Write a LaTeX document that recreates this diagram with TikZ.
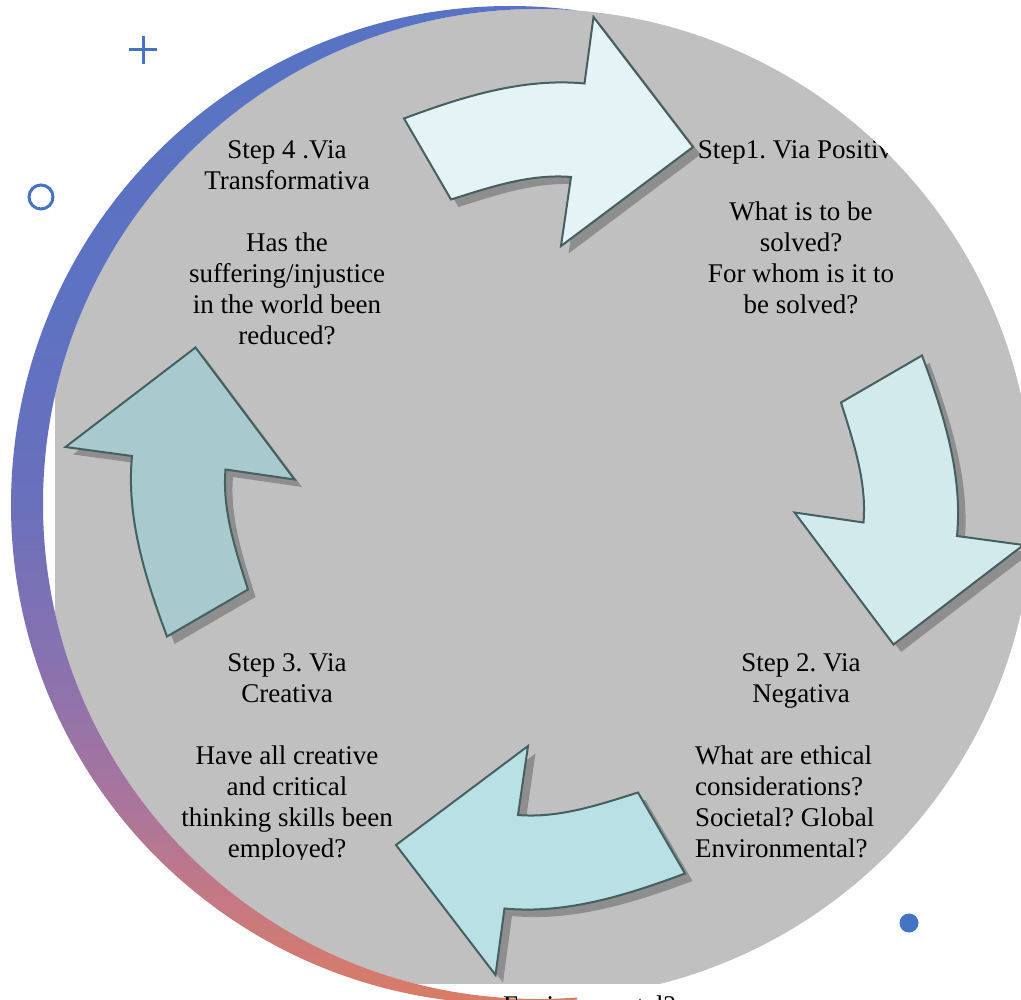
\documentclass[tikz,border=0pt]{standalone}
\usepackage{fontspec}
\setmainfont{Liberation Serif}
\frenchspacing
\definecolor{grayfill}{RGB}{192,192,192}
\definecolor{arrline}{RGB}{70,95,95}
\definecolor{arrA}{RGB}{227,243,246}
\definecolor{arrB}{RGB}{209,234,236}
\definecolor{arrC}{RGB}{185,224,228}
\definecolor{arrD}{RGB}{168,202,205}
\definecolor{shadowgray}{RGB}{142,142,142}
\definecolor{decoblue}{RGB}{68,114,196}
\definecolor{rgA}{RGB}{218,124,100}
\definecolor{rgB}{RGB}{198,121,130}
\definecolor{rgC}{RGB}{170,117,155}
\definecolor{rgD}{RGB}{136,114,175}
\definecolor{rgE}{RGB}{106,112,188}
\definecolor{rgF}{RGB}{93,114,194}
\definecolor{rgG}{RGB}{88,115,196}
\pgfdeclareverticalshading{ringshade}{100bp}{color(0bp)=(rgA); color(25bp)=(rgA); color(30bp)=(rgB); color(35bp)=(rgC); color(42bp)=(rgD); color(50bp)=(rgE); color(60bp)=(rgF); color(75bp)=(rgG); color(100bp)=(rgG)}
\tikzset{
  txt/.style={font=\fontsize{27}{31}\selectfont, inner sep=0pt, anchor=base, text=black},
  txtl/.style={txt, anchor=base west},
  arrowbody/.style={draw=arrline, line width=2pt},
  deco/.style={draw=decoblue, line width=3pt},
}
\begin{document}
\begin{tikzpicture}[x=1pt,y=-1pt]
\useasboundingbox (0,0) rectangle (1021,1000);
\clip (0,0) rectangle (1021,1000);
\fill[white] (0,0) rectangle (1021,1000);
% gray disc
\begin{scope}
  \clip (55,0) rectangle (1021,983);
  \fill[grayfill] (538,504) circle (495pt);
\end{scope}
% arrows
\foreach \ang/\col in {0/arrA, -90/arrB, -180/arrC, -270/arrD} {
  \begin{scope}[shift={(552,503.5)}, rotate=\ang]
    \fill[shadowgray] (-140.5,-377.5) .. controls (-82.6,-399.1) and (-21.5,-418.4) .. (40,-412.5) -- (49,-479) -- (148.5,-349) -- (16.5,-250) -- (26.5,-319) .. controls (-14.3,-322.4) and (-54.5,-308.8) .. (-93.5,-296.5) -- cycle;
  \end{scope}
  \begin{scope}[shift={(544.5,496)}, rotate=\ang]
    \filldraw[arrowbody, fill=\col] (-140.5,-377.5) .. controls (-82.6,-399.1) and (-21.5,-418.4) .. (40,-412.5) -- (49,-479) -- (148.5,-349) -- (16.5,-250) -- (26.5,-319) .. controls (-14.3,-322.4) and (-54.5,-308.8) .. (-93.5,-296.5) -- cycle;
  \end{scope}
}
% gradient ring
\begin{scope}
  \clip (0,0) rectangle (577,1000);
  \shade[shading=ringshade, even odd rule] (510,505) circle (499pt) (538,504) circle (495pt);
\end{scope}
% decorations
\draw[deco] (129,50) -- (157,50) (143,36) -- (143,64);
\draw[deco] (41,197) circle (12pt);
\fill[decoblue] (909,923) circle (9.5pt);
% texts
\foreach \t/\yy [count=\i] in {{Step 4 .Via}/159, {Transformativa}/190, {Has the}/252, {suffering/injustice}/283, {in the world been}/314, {reduced?}/345}
  \node[txt] (sfour\i) at (287,\yy) {\t};
\begin{scope}
  \clip (538,504) circle (495pt);
  \node[txt] (sone0) at (801,159) {Step1. Via Positiva};
\end{scope}
\foreach \t/\yy [count=\i] in {{What is to be}/221, {solved?}/252, {For whom is it to}/283, {be solved?}/314}
  \node[txt] (sone\i) at (801,\yy) {\t};
\foreach \t/\yy [count=\i] in {{Step 3. Via}/671, {Creativa}/702, {Have all creative}/764, {and critical}/795, {thinking skills been}/826}
  \node[txt] (sthree\i) at (287,\yy) {\t};
\begin{scope}
  \clip (0,0) rectangle (1021,859);
  \node[txt] (sthree6) at (287,857) {employed?};
\end{scope}
\foreach \t/\yy [count=\i] in {{Step 2. Via}/671, {Negativa}/702}
  \node[txt] (stwo\i) at (801,\yy) {\t};
\foreach \t/\yy [count=\i] in {{What are ethical}/764, {considerations?}/795, {Societal? Global}/826, {Environmental?}/857}
  \node[txtl] (stwoq\i) at (695,\yy) {\t};
\node[txtl] (bottomtext) at (503,1014) {Environmental?};
\end{tikzpicture}
\end{document}
